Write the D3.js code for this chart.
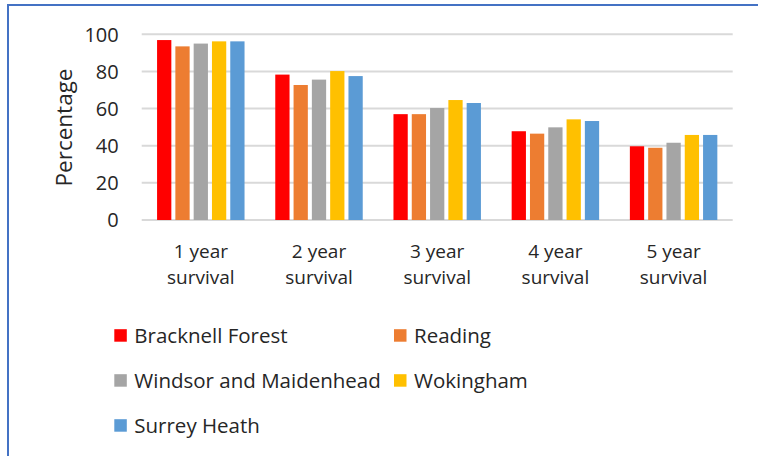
<!DOCTYPE html>
<head>
  <meta charset="utf-8" />
  <title>Survival chart</title>
  <style>
    body { margin: 0; background: #fff; }
    svg text { font-family: "Open Sans", sans-serif; fill: #262626; }
  </style>
</head>
<body>
  <script src="https://cdn.jsdelivr.net/npm/d3@7"></script>
  <script>
    // data
    var categories = ["1 year survival", "2 year survival", "3 year survival", "4 year survival", "5 year survival"];
    var seriesNames = ["Bracknell Forest", "Reading", "Windsor and Maidenhead", "Wokingham", "Surrey Heath"];
    var seriesColors = ["#ff0000", "#ed7d31", "#a5a5a5", "#ffc000", "#5b9bd5"];
    var bracknell = [96.9, 78.3, 57.0, 47.8, 39.7];
    var reading = [93.5, 72.7, 57.0, 46.5, 38.9];
    var windsor = [95.0, 75.6, 60.3, 49.9, 41.6];
    var wokingham = [96.2, 80.2, 64.6, 54.2, 45.8];
    var surrey = [96.2, 77.5, 63.0, 53.3, 45.8];
    var yTicks = [0, 20, 40, 60, 80, 100];

    var values = [bracknell, reading, windsor, wokingham, surrey];

    var width = 758, height = 456;
    var svg = d3.select("body").append("svg")
      .attr("width", width)
      .attr("height", height);

    // blue frame, only top and left visible
    svg.append("rect")
      .attr("x", 8).attr("y", 5)
      .attr("width", 800).attr("height", 500)
      .attr("fill", "none")
      .attr("stroke", "#4472c4")
      .attr("stroke-width", 2);

    var x0 = d3.scaleBand()
      .domain(categories)
      .range([141.7, 732.7])
      .paddingInner(0.26)
      .paddingOuter(0.13);
    var x1 = d3.scaleBand()
      .domain(seriesNames)
      .range([0, x0.bandwidth()])
      .paddingInner(0.22);
    var y = d3.scaleLinear().domain([0, 100]).range([220, 34.3]);

    // gridlines
    svg.append("g").selectAll("line")
      .data(yTicks)
      .enter().append("line")
      .attr("x1", 141.7).attr("x2", 732.7)
      .attr("y1", function (d) { return y(d); })
      .attr("y2", function (d) { return y(d); })
      .attr("stroke", "#d9d9d9")
      .attr("stroke-width", 2);

    // y tick labels
    svg.append("g").selectAll("text")
      .data(yTicks)
      .enter().append("text")
      .attr("x", 118.7)
      .attr("y", function (d) { return y(d); })
      .attr("dy", "0.36em")
      .attr("text-anchor", "end")
      .style("font-size", "20px")
      .text(function (d) { return d; });

    // bars
    var groups = svg.append("g").selectAll("g")
      .data(categories)
      .enter().append("g")
      .attr("transform", function (d) { return "translate(" + x0(d) + ",0)"; });
    groups.selectAll("rect")
      .data(function (c, i) {
        return seriesNames.map(function (s, j) { return { s: s, v: values[j][i], c: seriesColors[j] }; });
      })
      .enter().append("rect")
      .attr("x", function (d) { return x1(d.s); })
      .attr("width", x1.bandwidth())
      .attr("y", function (d) { return y(d.v); })
      .attr("height", function (d) { return y(0) - y(d.v); })
      .attr("fill", function (d) { return d.c; });

    // category labels on two lines
    var cat = svg.append("g").selectAll("text")
      .data(categories)
      .enter().append("text")
      .attr("text-anchor", "middle")
      .style("font-size", "19px");
    cat.append("tspan")
      .attr("x", function (d) { return x0(d) + x0.bandwidth() / 2; })
      .attr("y", 258)
      .text(function (d) { return d.split(" ").slice(0, 2).join(" "); });
    cat.append("tspan")
      .attr("x", function (d) { return x0(d) + x0.bandwidth() / 2; })
      .attr("y", 284)
      .text(function (d) { return d.split(" ").slice(2).join(" "); });

    // axis title
    svg.append("text")
      .attr("transform", "translate(72.3,127.5) rotate(-90)")
      .attr("text-anchor", "middle")
      .style("font-size", "22.5px")
      .text("Percentage");

    // legend
    var legend = svg.append("g").selectAll("g")
      .data(seriesNames)
      .enter().append("g")
      .attr("transform", function (d, i) {
        var col = i % 2, row = Math.floor(i / 2);
        return "translate(" + (col === 0 ? 114.3 : 394) + "," + (342.7 + row * 45) + ")";
      });
    legend.append("rect")
      .attr("x", 0).attr("y", -13.5)
      .attr("width", 12.5).attr("height", 12.5)
      .attr("fill", function (d, i) { return seriesColors[i]; });
    legend.append("text")
      .attr("x", 20)
      .attr("y", 0)
      .style("font-size", "20.5px")
      .text(function (d) { return d; });
  </script>
</body>
